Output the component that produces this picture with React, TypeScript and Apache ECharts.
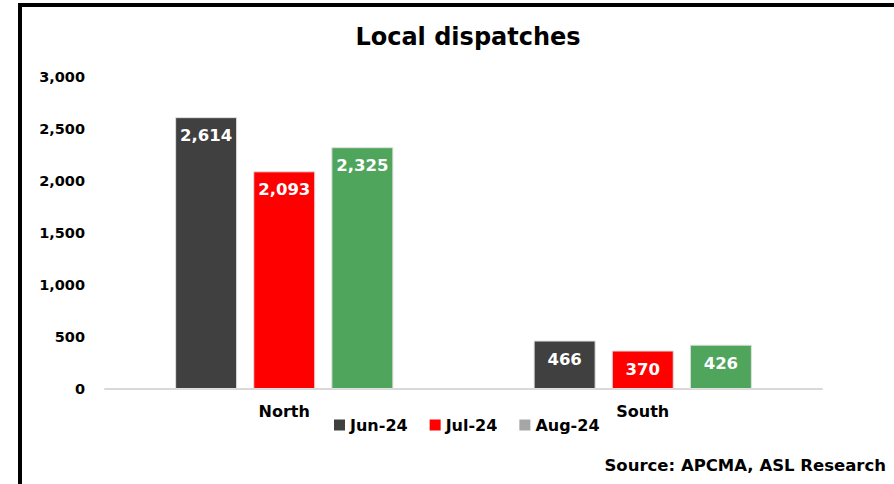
import React, { useEffect, useRef } from "react";
import * as echarts from "echarts";

const categories = ["North", "South"];
const seriesNames = ["Jun-24", "Jul-24", "Aug-24"];
const jun24 = [2614, 466];
const jul24 = [2093, 370];
const aug24 = [2325, 426];
const barColors = ["#404040", "#FF0000", "#4EA55B"];
const legendColors = ["#404040", "#FF0000", "#A6A6A6"];

const FONT = "'DejaVu Sans', sans-serif";

export default function App() {
  const ref = useRef<HTMLDivElement>(null);
  useEffect(() => {
    if (!ref.current) return;
    const chart = echarts.init(ref.current, null, { renderer: "svg" });
    const values = [jun24, jul24, aug24];
    chart.setOption({
      animation: false,
      backgroundColor: "#ffffff",
      title: {
        text: "Local dispatches",
        left: 463,
        textAlign: "center",
        top: 20,
        textStyle: { fontFamily: FONT, fontWeight: "bold", fontSize: 24, color: "#000" },
      },
      graphic: [
        {
          type: "rect",
          shape: { x: 20, y: 5, width: 960, height: 560 },
          style: { fill: "none", stroke: "#000", lineWidth: 4 },
          silent: true,
        },
        {
          type: "text",
          right: 8,
          top: 457,
          style: {
            text: "Source: APCMA, ASL Research",
            fontFamily: FONT,
            fontWeight: "bold",
            fontSize: 16.5,
            fill: "#000",
          },
        },
      ],
      legend: {
        left: 329,
        top: 412,
        itemWidth: 11,
        itemHeight: 11,
        itemGap: 22,
        textStyle: { fontFamily: FONT, fontWeight: "bold", fontSize: 16, color: "#000" },
        data: seriesNames.map((n, i) => ({
          name: n,
          icon: "rect",
          itemStyle: { color: legendColors[i], borderWidth: 0 },
        })),
      },
      grid: { left: 105, right: 72, top: 77, bottom: 95, containLabel: false },
      xAxis: {
        type: "category",
        data: categories,
        axisLine: { show: true, lineStyle: { color: "#D9D9D9", width: 2 } },
        axisTick: { show: false },
        axisLabel: {
          margin: 14,
          fontFamily: FONT,
          fontWeight: "bold",
          fontSize: 16,
          color: "#000",
        },
      },
      yAxis: {
        type: "value",
        min: 0,
        max: 3000,
        interval: 500,
        splitLine: { show: false },
        axisLine: { show: false },
        axisTick: { show: false },
        axisLabel: {
          margin: 20,
          fontFamily: FONT,
          fontWeight: "bold",
          fontSize: 14.5,
          color: "#000",
          formatter: (v: number) => v.toLocaleString("en-US"),
        },
      },
      series: seriesNames.map((n, i) => ({
        name: n,
        type: "bar",
        data: values[i],
        barWidth: 62,
        barGap: "26%",
        itemStyle: { color: barColors[i], borderColor: "#E0E0E0", borderWidth: 1 },
        label: {
          show: true,
          position: "insideTop",
          distance: 10,
          fontFamily: FONT,
          fontWeight: "bold",
          fontSize: 16.5,
          color: "#fff",
          formatter: (p: any) => Number(p.value).toLocaleString("en-US"),
        },
      })),
    });
    return () => chart.dispose();
  }, []);
  return (
    <div
      ref={ref}
      style={{ position: "fixed", left: 0, top: 0, width: 894, height: 484 }}
    />
  );
}
